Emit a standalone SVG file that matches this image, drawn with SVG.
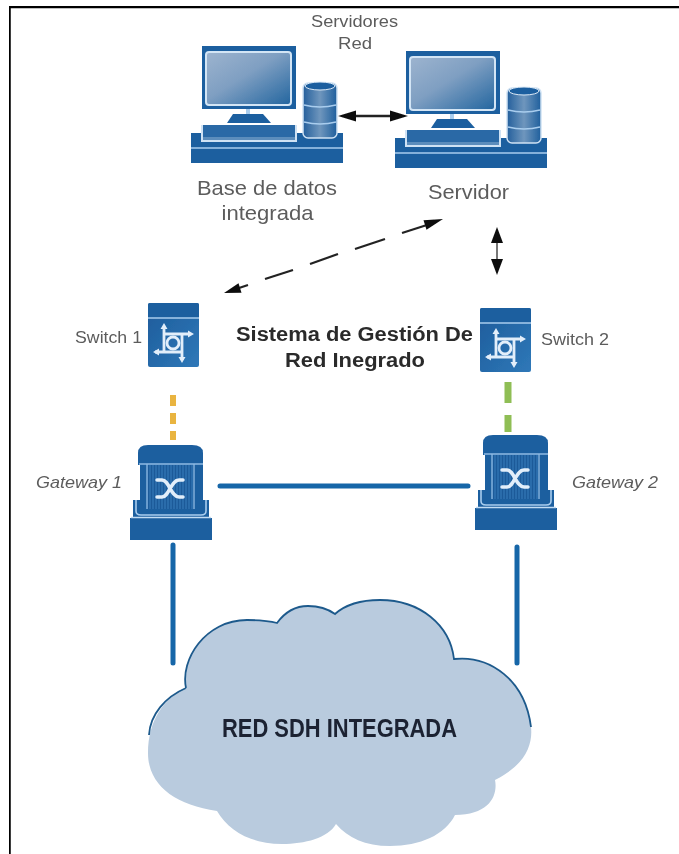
<svg xmlns="http://www.w3.org/2000/svg" width="679" height="854" viewBox="0 0 679 854">
<style>
text{font-family:"Liberation Sans",Arial,sans-serif;fill:#5c5c5c;text-anchor:middle}
.d{fill:#1d5f9f}.l{fill:none;stroke:#a9cdee;stroke-width:1.600}
.w{fill:none;stroke:#e2eefa;stroke-width:2.800}
.wf{fill:#e2eefa}
.link{fill:none;stroke:#1666a8;stroke-width:5;stroke-linecap:round}
.arr{fill:none;stroke:#222;stroke-width:2.300}
.b{font-weight:bold;fill:#2b2b2b}
.i{font-style:italic}
</style>
<defs>
<filter id="soft" x="0" y="0" width="100%" height="100%"><feGaussianBlur stdDeviation="0.500"/></filter>
<linearGradient id="g" x1="0" y1="0" x2="1" y2="1"><stop offset="0" stop-color="#9db4cf"/><stop offset=".45" stop-color="#7f9fc2"/><stop offset="1" stop-color="#22659f"/></linearGradient>
<linearGradient id="c" x1="0" y1="0" x2="1" y2="0"><stop offset="0" stop-color="#245f9c"/><stop offset=".5" stop-color="#6f96bd"/><stop offset="1" stop-color="#1f5f9d"/></linearGradient>
<linearGradient id="s" x1="0" y1="0" x2="1" y2="1"><stop offset="0" stop-color="#1d5c9b"/><stop offset="1" stop-color="#2f78b8"/></linearGradient>
<pattern id="hatch" width="3" height="4" patternUnits="userSpaceOnUse"><rect width="3" height="4" fill="#2a6cab"/><rect width="1" height="4" fill="#1c5a99"/></pattern>
<g id="pc">
<rect x="0" y="0" width="94" height="63" class="d"/>
<rect x="4" y="6" width="85" height="53" rx="3" fill="url(#g)" stroke="#d3e5f5" stroke-width="2"/>
<rect x="44" y="63" width="4" height="5" fill="#a9cdee"/>
<path d="M31 68H61L69 77H25Z" class="d"/>
<rect x="-11" y="87" width="152" height="30" class="d"/>
<rect x="-1" y="79" width="96" height="17" fill="#cfe2f4"/>
<rect x="1" y="79" width="92" height="12" fill="#2a69a6"/>
<rect x="1" y="91" width="92" height="3" fill="#5c8dbc"/>
<path d="M-11 102H141" class="l"/>
<rect x="101" y="37" width="34" height="55" rx="5" fill="url(#c)" stroke="#cfe2f4" stroke-width="1.500"/>
<ellipse cx="118" cy="40" rx="15" ry="4" fill="#1d5f9f" stroke="#dbe9f6"/>
<path d="M102 59Q118 63 134 59M102 76Q118 80 134 76" class="l"/>
</g>
<g id="sw">
<rect x="0" y="0" width="51" height="64" rx="2" fill="url(#s)"/>
<rect x="0" y="0" width="51" height="15" rx="2" class="d"/>
<path d="M0 15H51" stroke="#a9cdee" stroke-width="1.300"/>
<path d="M16 25V49M7 49H34M16 31H42M34 31V57" class="w"/>
<circle cx="25" cy="40" r="6" class="w"/>
<path d="M16 20L19.500 26H12.500ZM46 31L40 27.500V34.500ZM34 60L30.500 54H37.500ZM5 49L11 45.500V52.500Z" class="wf"/>
</g>
<g id="gw">
<path d="M8 20V8Q8 0 18 0H62Q73 0 73 8V20Z" class="d"/>
<path d="M3 55H79V75H3Z" class="d"/>
<rect x="10" y="19" width="63" height="48" class="d"/>
<rect x="17" y="20" width="47" height="44" fill="url(#hatch)"/>
<path d="M9 19H73M17 19V64M64 19V64" fill="none" stroke="#8fbbe3" stroke-width="1.300"/>
<path d="M6 55V66Q6 70 11 70H71Q76 70 76 66V55" class="l"/>
<path d="M27 35H32C39 35 41 52 49 52H53M27 52H32C39 52 41 35 49 35H53" fill="none" stroke="#e2eefa" stroke-width="3.500" stroke-linecap="round"/>
<rect x="0" y="73" width="82" height="22" class="d"/>
<path d="M1 72.500H81" stroke="#c2dcf3" stroke-width="1.500"/>
</g>
</defs>
<rect width="679" height="854" fill="#fff"/>
<g filter="url(#soft)">
<path d="M9 854V6.500H679" fill="none" stroke="#000" stroke-width="3.500"/>
<g id="connectors">
<path class="arr" d="M350 116H396"/>
<path d="M338 116L356 110.500V121.500ZM408 116L390 110.500V121.500Z" fill="#111"/>
<path class="arr" d="M236 289L248 285M265 279L293 270M310 264L338 254M355 249L385 239M402 233L430 224"/>
<path d="M224 293L238.500 283.300L241.500 292.700ZM443 219L423.500 220.300L426.500 229.700Z" fill="#111"/>
<path d="M497 240V262" stroke="#777" stroke-width="2"/>
<path d="M497 227L491 243H503ZM497 275L491 259H503Z" fill="#111"/>
<path d="M173 395V440" stroke="#e9b440" stroke-width="6" stroke-dasharray="11 7" fill="none"/>
<path d="M508 382V432" stroke="#8fbe55" stroke-width="7" stroke-dasharray="21 12" fill="none"/>
<path class="link" d="M220 486H468M173 545V663M517 547V663"/>
</g>
<g id="node-db"><use href="#pc" x="202" y="46"/></g>
<g id="node-server"><use href="#pc" x="406" y="51"/></g>
<g id="node-switch1"><use href="#sw" x="148" y="303"/></g>
<g id="node-switch2"><use href="#sw" x="480" y="308"/></g>
<g id="node-gw1"><use href="#gw" x="130" y="445"/></g>
<g id="node-gw2"><use href="#gw" x="475" y="435"/></g>
<g id="node-cloud">
<path d="M186 688C180 660 205 620 247 620C258 620 270 621 277 623C285 612 295 606 308 606C318 606 328 609 335 614C345 605 360 600 380 600C420 600 450 625 454 659C490 655 525 680 531 727C533 745 525 765 495 780C498 795 490 815 455 815C445 835 420 846 390 846C365 846 348 838 336 824C328 838 305 844 282 844C250 844 228 830 217 811C175 805 148 785 148 753C148 720 165 697 186 688Z" fill="#b9cbde"/>
<path d="M186 688C180 660 205 620 247 620C258 620 270 621 277 623C285 612 295 606 308 606C318 606 328 609 335 614C345 605 360 600 380 600C420 600 450 625 454 659C490 655 525 680 531 727M186 688C165 697 150 715 149 735" fill="none" stroke="#1f5a8c" stroke-width="1.800"/>
</g>
<g id="labels">
<text x="354.500" y="27" font-size="16" textLength="87" lengthAdjust="spacingAndGlyphs">Servidores</text>
<text x="355" y="49" font-size="16" textLength="34" lengthAdjust="spacingAndGlyphs">Red</text>
<text x="267" y="195" font-size="21" textLength="140" lengthAdjust="spacingAndGlyphs">Base de datos</text>
<text x="267.500" y="220" font-size="21" textLength="92" lengthAdjust="spacingAndGlyphs">integrada</text>
<text x="468.500" y="199" font-size="21" textLength="81" lengthAdjust="spacingAndGlyphs">Servidor</text>
<text x="108.500" y="343" font-size="17" textLength="67" lengthAdjust="spacingAndGlyphs">Switch 1</text>
<text x="575" y="345" font-size="17" textLength="68" lengthAdjust="spacingAndGlyphs">Switch 2</text>
<text x="79" y="488" font-size="17" class="i" textLength="86" lengthAdjust="spacingAndGlyphs">Gateway 1</text>
<text x="615" y="488" font-size="17" class="i" textLength="86" lengthAdjust="spacingAndGlyphs">Gateway 2</text>
<text x="354.500" y="341" font-size="20" class="b" textLength="237" lengthAdjust="spacingAndGlyphs">Sistema de Gestión De</text>
<text x="355" y="367" font-size="20" class="b" textLength="140" lengthAdjust="spacingAndGlyphs">Red Inegrado</text>
<text x="339.500" y="737" font-size="25" textLength="235" lengthAdjust="spacingAndGlyphs" style="font-weight:bold;fill:#1c2433">RED SDH INTEGRADA</text>
</g>
</g>
</svg>
